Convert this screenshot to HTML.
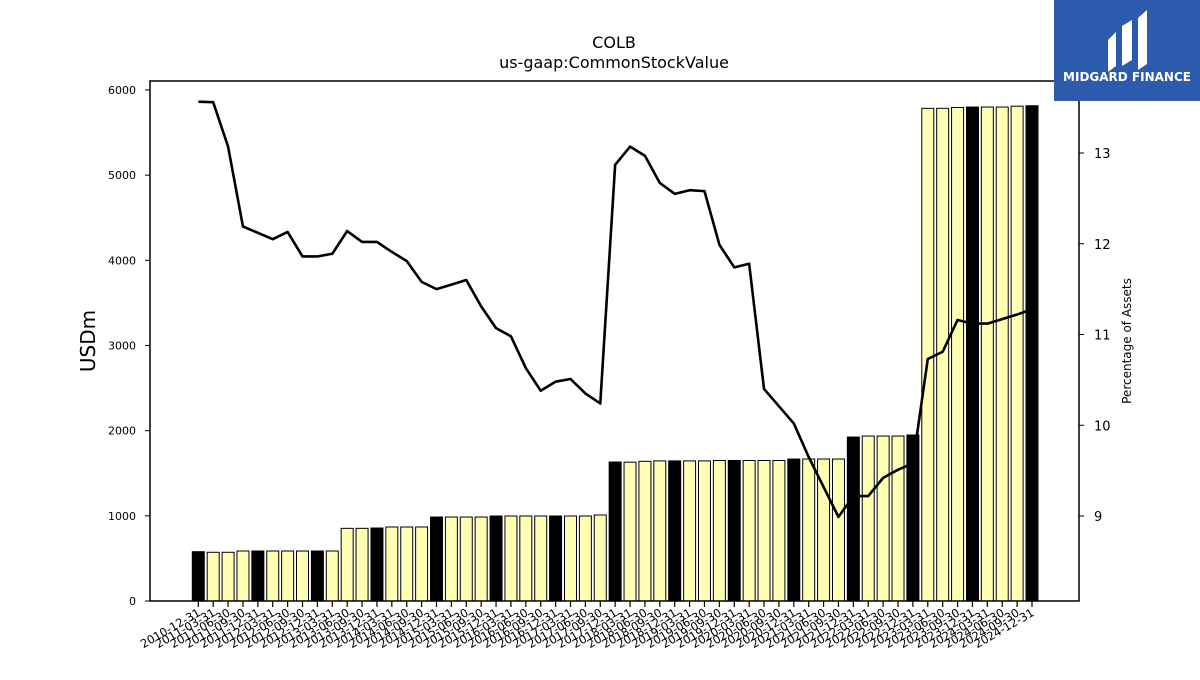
<!DOCTYPE html>
<html><head><meta charset="utf-8"><style>
body{margin:0;background:#fff;font-family:"Liberation Sans","DejaVu Sans",sans-serif}
svg text{font-family:"DejaVu Sans","Liberation Sans",sans-serif}
</style></head><body>
<svg id="c" width="1200" height="675" xmlns="http://www.w3.org/2000/svg">
<text x="614" y="48" text-anchor="middle" font-size="16">COLB</text>
<text x="614" y="68" text-anchor="middle" font-size="16">us-gaap:CommonStockValue</text>
<g id="bars"></g>
<g id="line"></g>
<rect x="150" y="81" width="929" height="520" fill="none" stroke="#000" stroke-width="1.5"/>
<g id="axes"></g>
<text transform="translate(95,341) rotate(-90)" text-anchor="middle" font-size="20">USDm</text>
<text transform="translate(1131,341) rotate(-90)" text-anchor="middle" font-size="12">Percentage of Assets</text>
<g>
<rect x="1054" y="0" width="146" height="101" fill="#2c5aad"/>
<path d="M1108 40 L1116 32 L1116 66 L1108 72 Z M1122 26 L1132 20 L1132 60 L1122 66 Z M1138 18 L1147 10 L1147 64 L1138 70 Z" fill="#fff"/>
<text x="1127" y="81" text-anchor="middle" font-size="12" font-weight="bold" fill="#fff">MIDGARD FINANCE</text>
</g>
</svg>
<script>
const categories=["2010-12-31","2011-03-31","2011-06-30","2011-09-30","2011-12-31","2012-03-31","2012-06-30","2012-09-30","2012-12-31","2013-03-31","2013-06-30","2013-09-30","2013-12-31","2014-03-31","2014-06-30","2014-09-30","2014-12-31","2015-03-31","2015-06-30","2015-09-30","2015-12-31","2016-03-31","2016-06-30","2016-09-30","2016-12-31","2017-03-31","2017-06-30","2017-09-30","2017-12-31","2018-03-31","2018-06-30","2018-09-30","2018-12-31","2019-03-31","2019-06-30","2019-09-30","2019-12-31","2020-03-31","2020-06-30","2020-09-30","2020-12-31","2021-03-31","2021-06-30","2021-09-30","2021-12-31","2022-03-31","2022-06-30","2022-09-30","2022-12-31","2023-03-31","2023-06-30","2023-09-30","2023-12-31","2024-03-31","2024-06-30","2024-09-30","2024-12-31"];
const stockValue=[579,572,572,587,587,587,587,587,587,587,853,853,857,869,869,869,986,986,986,986,998,998,998,998,998,998,998,1010,1632,1630,1640,1645,1645,1645,1645,1650,1650,1650,1650,1650,1667,1667,1667,1667,1925,1937,1937,1937,1949,5785,5785,5795,5800,5800,5800,5810,5815];
const pctAssets=[13.565,13.56,13.07,12.19,12.12,12.05,12.13,11.86,11.86,11.89,12.14,12.02,12.02,11.91,11.81,11.58,11.50,11.55,11.60,11.31,11.07,10.98,10.63,10.38,10.48,10.51,10.35,10.24,12.87,13.07,12.97,12.67,12.55,12.59,12.58,11.99,11.74,11.78,10.40,10.21,10.02,9.65,9.32,8.99,9.22,9.22,9.42,9.51,9.58,10.73,10.81,11.16,11.12,11.12,11.17,11.22,11.28];
const leftTicks=[0,1000,2000,3000,4000,5000,6000];
const rightTicks=[9,10,11,12,13];
const NS="http://www.w3.org/2000/svg";
const x=i=>198.3+i*(1032-198.3)/(categories.length-1);
const yL=v=>601-v*(601-90)/6000;
const yR=v=>153+(13-v)*(516-153)/4;
function mk(t,a,p){const e=document.createElementNS(NS,t);for(const k in a)e.setAttribute(k,a[k]);p.appendChild(e);return e;}
const bars=document.getElementById('bars');
stockValue.forEach((v,i)=>{
 const black=categories[i].endsWith('12-31');
 const r=mk('rect',{x:x(i)-6,y:yL(v),width:12,height:601-yL(v),fill:black?'#000':'#ffffb3',stroke:'#000','stroke-width':1},bars);
 
 
});
const ln=document.getElementById('line');
const p=mk('polyline',{points:pctAssets.map((v,i)=>x(i)+','+yR(v)).join(' '),fill:'none',stroke:'#000','stroke-width':2.6,'stroke-linejoin':'round'},ln);


const ax=document.getElementById('axes');
leftTicks.forEach(t=>{
 mk('line',{x1:145,x2:150,y1:yL(t),y2:yL(t),stroke:'#000'},ax);
 const tx=mk('text',{x:136,y:yL(t)+4,'text-anchor':'end','font-size':11},ax);tx.textContent=t;
 
 
});
rightTicks.forEach(t=>{
 mk('line',{x1:1079,x2:1084,y1:yR(t),y2:yR(t),stroke:'#000'},ax);
 const tx=mk('text',{x:1094,y:yR(t)+5,'font-size':13},ax);tx.textContent=t;
 
 
});
categories.forEach((c,i)=>{
 mk('line',{x1:x(i),x2:x(i),y1:601,y2:607,stroke:'#000','stroke-width':1.2},ax);
 const tx=mk('text',{transform:`translate(${x(i)+3},${615}) rotate(-30)`,'text-anchor':'end','font-size':11.5},ax);tx.textContent=c;
 
 
});
</script>
</body></html>
